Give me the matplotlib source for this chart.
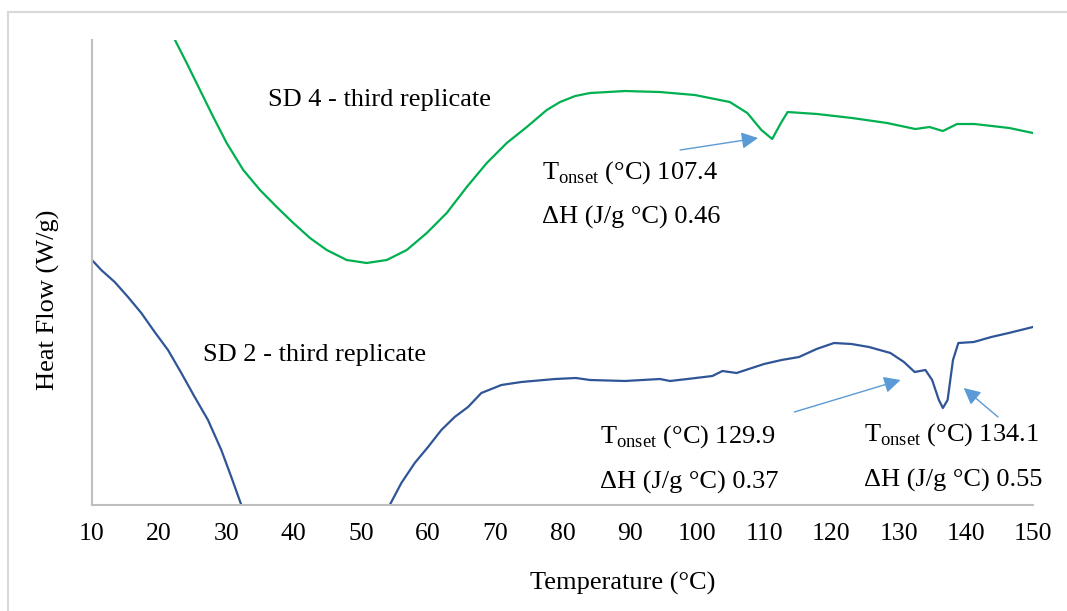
import matplotlib
matplotlib.use("Agg")
import matplotlib.pyplot as plt
from matplotlib.lines import Line2D

plt.rcParams['font.family'] = ['Liberation Serif', 'DejaVu Serif']
plt.rcParams['mathtext.fontset'] = 'custom'
plt.rcParams['mathtext.rm'] = 'Liberation Serif'

# SD 4 - third replicate (green)
temp_sd4 = [21.8, 22.35, 24.09, 26.07, 28.05, 30.04, 32.51, 35.0, 37.49, 39.96, 42.44,
            44.93, 47.9, 50.88, 53.85, 56.83, 59.81, 62.78, 65.76, 68.74, 71.71,
            74.69, 77.66, 79.64, 81.9, 84.1, 89.3, 94.5, 99.7, 104.9, 107.5, 109.6,
            111.2, 112.5, 113.5, 117.9, 123.1, 128.3, 132.5, 134.6, 136.6, 138.7,
            141.3, 146.5, 150.0]
flow_sd4 = [4.72, 4.65, 4.42, 4.15, 3.88, 3.62, 3.35, 3.15, 2.98, 2.82, 2.67,
            2.55, 2.45, 2.42, 2.45, 2.55, 2.72, 2.92, 3.18, 3.42, 3.62,
            3.78, 3.95, 4.03, 4.09, 4.12, 4.14, 4.13, 4.10, 4.03, 3.92, 3.75,
            3.66, 3.82, 3.93, 3.91, 3.87, 3.82, 3.76, 3.78, 3.74, 3.81,
            3.81, 3.77, 3.72]

# SD 2 - third replicate (blue), dips below the visible range between ~32 and ~54 C
temp_sd2 = [10.0, 11.38, 13.38, 15.36, 17.34, 19.33, 21.31, 23.29, 25.28, 27.26,
            29.24, 30.73, 32.22, 33.5, 53.0, 54.3, 56.03, 58.02, 60.0, 61.98, 63.96,
            65.95, 67.93, 70.91, 73.88, 78.9, 82.0, 84.1, 89.3, 94.5, 96.0, 98.6,
            102.3, 103.8, 105.9, 110.0, 112.6, 115.2, 117.8, 120.4, 123.0, 125.6,
            128.8, 130.8, 132.4, 134.0, 135.0, 136.0, 136.6, 137.3, 138.1, 138.9,
            141.2, 143.8, 146.4, 150.0]
flow_sd2 = [2.45, 2.35, 2.23, 2.08, 1.92, 1.73, 1.55, 1.32, 1.08, 0.85,
            0.55, 0.28, 0.0, -0.3, -0.3, 0.0, 0.22, 0.42, 0.58, 0.75, 0.88,
            0.98, 1.12, 1.20, 1.23, 1.26, 1.27, 1.25, 1.24, 1.26, 1.24, 1.26,
            1.29, 1.34, 1.32, 1.41, 1.45, 1.48, 1.56, 1.62, 1.61, 1.58,
            1.52, 1.43, 1.33, 1.35, 1.25, 1.05, 0.97, 1.05, 1.45, 1.62,
            1.63, 1.68, 1.72, 1.78]

x_ticks = list(range(10, 151, 10))

fig = plt.figure(figsize=(10.67, 6.11), dpi=100)
ax = fig.add_axes([0.0862, 0.1735, 0.8819, 0.761])

ax.plot(temp_sd4, flow_sd4, color='#00B050', lw=1.6)
ax.plot(temp_sd2, flow_sd2, color='#2F5597', lw=1.6)

ax.set_xlim(10, 150)
ax.set_ylim(0, 4.65)
ax.set_xticks(x_ticks)
ax.set_yticks([])
ax.tick_params(axis='x', length=0, pad=13, labelsize=18.5)
for s in ['top', 'right']:
    ax.spines[s].set_visible(False)
for s in ['left', 'bottom']:
    ax.spines[s].set_color('#BFBFBF')
    ax.spines[s].set_linewidth(1.5)

fig.text(48 / 1067, 1 - 300 / 611, 'Heat Flow (W/g)', rotation=90, fontsize=19,
         ha='center', va='center')
fig.text(623 / 1067, 1 - 583 / 611, 'Temperature (°C)', fontsize=19,
         ha='center', va='center')

# curve labels
ax.text(36.2, 4.05, 'SD 4 - third replicate', fontsize=19, va='center')
ax.text(26.5, 1.50, 'SD 2 - third replicate', fontsize=19, va='center')

# annotations
notes = [
    (76.9, 3.32, 2.88, '107.4', '0.46'),
    (85.6, 0.68, 0.23, '129.9', '0.37'),
    (124.9, 0.70, 0.25, '134.1', '0.55'),
]
for x, y1, y2, t, h in notes:
    ax.text(x, y1, r'T$_{\mathrm{onset}}$ (°C) ' + t, fontsize=19, va='center')
    ax.text(x, y2, 'ΔH (J/g °C) ' + h, fontsize=19, va='center')

arrows = [
    ((97.5, 3.55), (109.1, 3.67)),
    ((114.5, 0.93), (130.3, 1.25)),
    ((144.8, 0.88), (139.7, 1.17)),
]
for start, tip in arrows:
    ax.annotate('', xy=tip, xytext=start,
                arrowprops=dict(arrowstyle='-|>,head_length=1.0,head_width=0.5',
                                color='#5B9BD5', lw=1, shrinkA=0, shrinkB=0))

# light frame around the chart area
fig.add_artist(Line2D([8 / 1067, 1.01], [1 - 12 / 611, 1 - 12 / 611],
                      transform=fig.transFigure, color='#D9D9D9', lw=1.5))
fig.add_artist(Line2D([8 / 1067, 8 / 1067], [1 - 12 / 611, -0.01],
                      transform=fig.transFigure, color='#D9D9D9', lw=1.5))

fig.savefig('out.png', dpi=100)
